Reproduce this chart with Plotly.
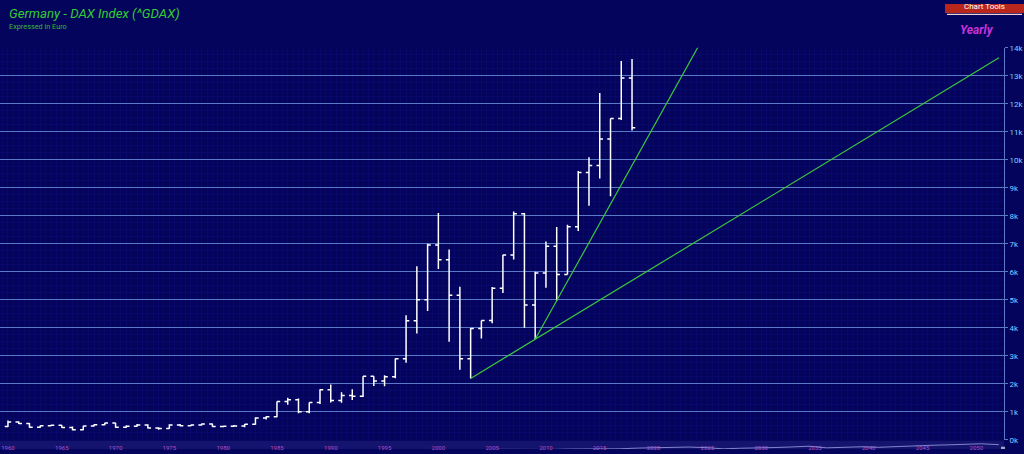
import plotly.graph_objects as go

years = list(range(1960, 2019))
opens = [470, 630, 580, 450, 500, 515, 440, 355, 490, 535,
         595, 450, 480, 525, 420, 400, 530, 500, 530, 565,
         475, 480, 490, 550, 775, 820, 1370, 1430, 1000, 1330,
         1790, 1400, 1580, 1550, 2265, 2100, 2250, 2890, 4250, 5000,
         6960, 6430, 5160, 2890, 3970, 4260, 5410, 6600, 8070, 4810,
         5960, 6910, 5900, 7610, 9550, 9800, 10740, 11480, 12920]
highs = [690, 660, 600, 510, 540, 530, 470, 500, 550, 610,
         610, 520, 560, 550, 450, 550, 560, 540, 580, 580,
         500, 530, 560, 800, 840, 1370, 1500, 1470, 1330, 1800,
         1970, 1700, 1800, 2270, 2270, 2300, 2900, 4450, 6200, 7000,
         8100, 6800, 5470, 3990, 4260, 5460, 6610, 8150, 8100, 6000,
         7080, 7600, 7680, 9600, 10090, 12390, 11480, 13530, 13600]
lows = [455, 560, 430, 430, 480, 430, 330, 340, 470, 520,
        430, 430, 460, 400, 360, 390, 480, 480, 510, 460,
        450, 460, 450, 540, 720, 800, 1250, 950, 950, 1280,
        1330, 1320, 1420, 1530, 1920, 1910, 2200, 2750, 3800, 4600,
        6100, 3500, 2500, 2190, 3620, 4160, 5240, 6440, 4000, 3590,
        5430, 4970, 5900, 7460, 8360, 9330, 8700, 11420, 11050]
closes = [630, 580, 450, 500, 515, 440, 355, 490, 535, 595,
          450, 480, 525, 420, 400, 530, 500, 530, 565, 475,
          480, 490, 550, 775, 820, 1370, 1430, 1000, 1330, 1790,
          1400, 1580, 1550, 2265, 2100, 2250, 2890, 4250, 5000, 6960,
          6430, 5160, 2890, 3970, 4260, 5410, 6600, 8070, 4810, 5960,
          6910, 5900, 7610, 9550, 9800, 10740, 11480, 12920, 11150]

y_tick_vals = list(range(0, 15000, 1000))
y_tick_text = [f"{v // 1000}k" for v in y_tick_vals]
x_tick_vals = list(range(1960, 2055, 5))
x_tick_text = [str(v) for v in x_tick_vals]

# trendlines anchored on lows (2003, 2009) and (2009, 2011)
ta_years = [2003, 2009]
tb_years = [2009, 2011]
ta_end = 2052.1
tb_end = 2026


def extend(y_pair, end_year):
    i0 = years.index(y_pair[0])
    i1 = years.index(y_pair[1])
    v0, v1 = lows[i0], lows[i1]
    slope = (v1 - v0) / (y_pair[1] - y_pair[0])
    return [y_pair[0], end_year], [v0, v0 + slope * (end_year - y_pair[0])]


ta_x, ta_y = extend(ta_years, ta_end)
tb_x, tb_y = extend(tb_years, tb_end)

BG = "#04045c"
GRID = "#5a78c8"
MINOR = "#08086a"
W, H = 1024, 454
PW = 1004
XD = PW / W


def px(x):
    return x / W


def py(y):
    # vertical pixel (reference) -> paper fraction, compensating the capture
    yy = (y - 3.0) / 0.983
    return 1 - yy / H


fig = go.Figure()

fig.add_trace(go.Ohlc(
    x=years, open=opens, high=highs, low=lows, close=closes,
    increasing=dict(line=dict(color="#ffffff", width=1.5)),
    decreasing=dict(line=dict(color="#ffffff", width=1.5)),
    tickwidth=0.3, showlegend=False, hoverinfo="skip",
    xaxis="x", yaxis="y",
))

fig.add_trace(go.Scatter(x=ta_x, y=ta_y, mode="lines",
                         line=dict(color="#3cc83c", width=1.2),
                         showlegend=False, hoverinfo="skip"))
fig.add_trace(go.Scatter(x=tb_x, y=tb_y, mode="lines",
                         line=dict(color="#3cc83c", width=1.2),
                         showlegend=False, hoverinfo="skip"))

# navigator mini line
fig.add_trace(go.Scatter(x=years, y=closes, mode="lines",
                         line=dict(color="#9090d8", width=0.9),
                         xaxis="x2", yaxis="y2",
                         showlegend=False, hoverinfo="skip"))

fig.update_layout(
    autosize=True,
    margin=dict(l=0, r=0, t=0, b=0),
    paper_bgcolor=BG, plot_bgcolor=BG,
    font=dict(family="Roboto, sans-serif"),
    xaxis=dict(
        range=[1959.26, 2052.57], domain=[0, XD],
        tickvals=x_tick_vals, ticktext=x_tick_text,
        tickfont=dict(size=6, color="#b04cc8"),
        ticklabelstandoff=3,
        showgrid=False, zeroline=False, showline=False, ticks="",
        rangeslider=dict(visible=False),
        minor=dict(dtick=0.5, tick0=1960, showgrid=True, gridcolor=MINOR, gridwidth=1),
        anchor="y",
    ),
    yaxis=dict(
        range=[0, 14000], domain=[py(440), py(47)],
        side="right", tickvals=y_tick_vals, ticktext=y_tick_text,
        tickfont=dict(size=8, color="#7fd0ff"),
        showgrid=True, gridcolor=GRID, gridwidth=1,
        zeroline=False, showline=True, linecolor=GRID, linewidth=1,
        ticks="outside", ticklen=3, tickcolor=GRID,
        minor=dict(dtick=250, showgrid=True, gridcolor=MINOR, gridwidth=1),
        anchor="x",
    ),
    xaxis2=dict(range=[1960, 2018.3], domain=[0, XD], visible=False, anchor="y2"),
    yaxis2=dict(range=[2500, 19000], domain=[0, py(441)], visible=False, anchor="x2"),
    shapes=[
        dict(type="rect", xref="paper", yref="paper",
             x0=0, x1=XD, y0=0, y1=py(441), fillcolor="#14146e",
             line=dict(width=0), layer="below"),
        dict(type="rect", xref="paper", yref="paper",
             x0=px(1001), x1=px(1005), y0=0, y1=py(447),
             fillcolor="#a8a8b8", line=dict(width=0)),
        dict(type="rect", xref="paper", yref="paper",
             x0=px(945), x1=px(1024), y0=py(12), y1=1,
             fillcolor="#b8261c", line=dict(width=0)),
        dict(type="line", xref="paper", yref="paper",
             x0=px(947), x1=px(1022), y0=py(13.5), y1=py(13.5),
             line=dict(color="#f4d0d0", width=1.3)),
    ],
    annotations=[
        dict(text="<i>Germany - DAX Index (^GDAX)</i>", xref="paper", yref="paper",
             x=px(7), y=py(13), xanchor="left", yanchor="middle", showarrow=False,
             font=dict(size=13.2, color="#33cc33", family="Roboto")),
        dict(text="Expressed in Euro", xref="paper", yref="paper",
             x=px(7), y=py(26), xanchor="left", yanchor="middle", showarrow=False,
             font=dict(size=7.3, color="#33bb33", family="Roboto")),
        dict(text="Chart Tools", xref="paper", yref="paper",
             x=px(984), y=py(6), xanchor="center", yanchor="middle", showarrow=False,
             font=dict(size=8, color="#ffffff", family="Roboto")),
        dict(text="<b><i>Yearly</i></b>", xref="paper", yref="paper",
             x=px(977), y=py(29), xanchor="center", yanchor="middle", showarrow=False,
             font=dict(size=12, color="#c833d8", family="Roboto")),
    ],
)

post = (
    "document.documentElement.style.margin='0';"
    "document.body.style.margin='0';"
    "document.body.style.overflow='hidden';"
    "document.documentElement.style.overflow='hidden';"
    "var gd=document.getElementById('{plot_id}');"
    "gd.style.width='1024px';gd.style.height='100vh';"
    "Plotly.Plots.resize(gd);"
)

fig.write_html("out.html",
               config={"displayModeBar": False, "responsive": True},
               default_width="1024px", default_height="100vh",
               post_script=post)
